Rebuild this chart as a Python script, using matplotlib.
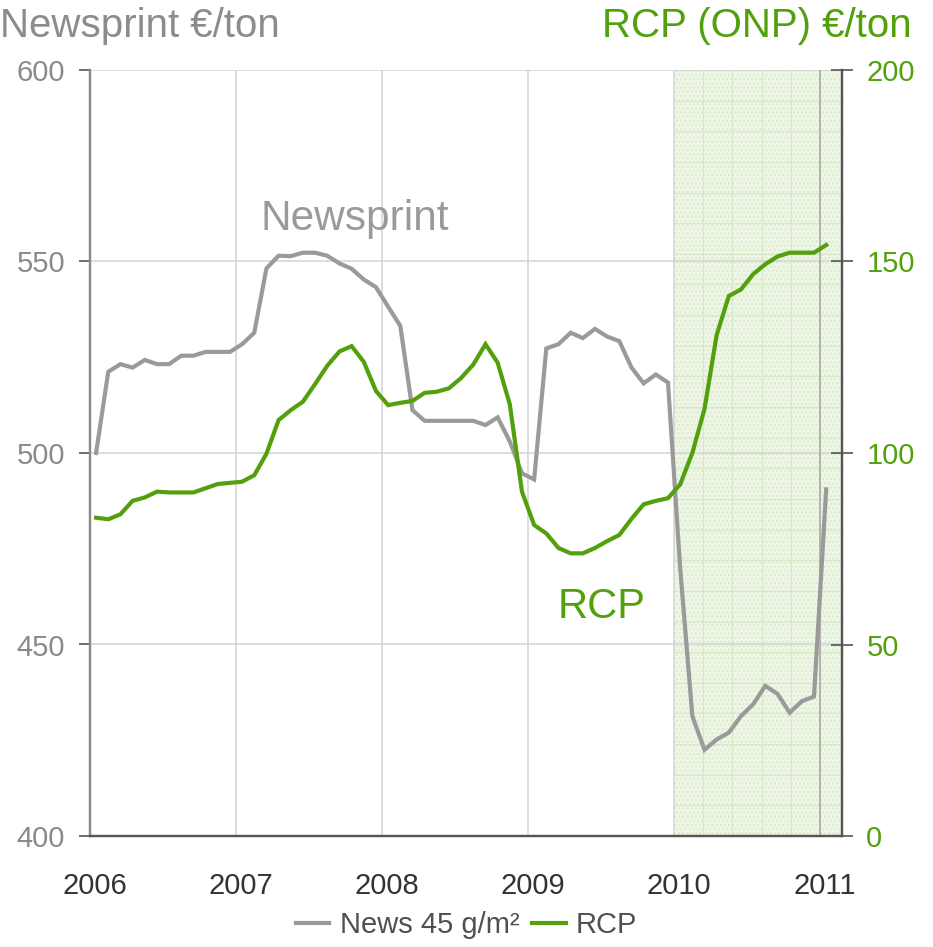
import numpy as np
import matplotlib
matplotlib.use("Agg")
import matplotlib.pyplot as plt
import matplotlib.transforms as mtransforms

plt.rcParams['font.family'] = ['Liberation Sans', 'DejaVu Sans']

# monthly data Jan 2006 .. Jan 2011
start_year = 2006
newsprint = [500, 521.2, 523.2, 522.3, 524.3, 523.2, 523.2, 525.4, 525.4, 526.4, 526.4, 526.4,
             528.4, 531.4, 548.2, 551.5, 551.4, 552.3, 552.3, 551.5, 549.5, 548.1, 545.3, 543.3,
             538.2, 533.2, 511.2, 508.4, 508.4, 508.4, 508.4, 508.4, 507.3, 509.3, 503.0, 494.7,
             493.1, 527.3, 528.4, 531.4, 530.0, 532.4, 530.4, 529.2, 522.3, 518.2, 520.5, 518.4,
             470.0, 431.3, 422.5, 425.2, 427.0, 431.3, 434.4, 439.2, 437.1, 432.2, 435.2, 436.4,
             490.5]
rcp = [83.1, 82.7, 84.0, 87.5, 88.4, 89.9, 89.7, 89.7, 89.7, 90.8, 91.9, 92.2,
       92.5, 94.2, 99.8, 108.6, 111.2, 113.4, 118.0, 122.8, 126.5, 127.9, 123.8, 116.2,
       112.5, 113.1, 113.6, 115.7, 116.0, 116.9, 119.6, 123.1, 128.4, 123.6, 112.7, 89.9,
       81.2, 79.0, 75.2, 73.8, 73.8, 75.2, 77.0, 78.6, 82.8, 86.6, 87.5, 88.2,
       91.8, 100.0, 111.5, 130.8, 141.0, 142.7, 146.7, 149.3, 151.3, 152.3, 152.3, 152.3,
       154.3]
year_ticks = [2006, 2007, 2008, 2009, 2010, 2011]
left_ticks = [400, 450, 500, 550, 600]
right_ticks = [0, 50, 100, 150, 200]
shade_start = 2010

x = start_year + (np.arange(len(newsprint)) + 0.5) / 12.0

GRAY = '#9a9a9a'
GREEN = '#52a00c'

fig = plt.figure(figsize=(9.33, 9.47), dpi=100)
ax = fig.add_axes([90/933, 1-836/947, (842-90)/933, (836-70)/947])
ax2 = ax.twinx()

xmin, xmax = 2006.005, 2011.15
ax.set_xlim(xmin, xmax)
ax.set_ylim(400, 600)
ax2.set_ylim(0, 200)

# shaded forecast region
ax.axvspan(shade_start, xmax, color='#eef6e6', zorder=0, lw=0)
ax.fill_between([shade_start, xmax], 400, 600, facecolor='none', edgecolor='#dcebcf',
                hatch='....', lw=0, zorder=0.5)
for xv in np.arange(shade_start + 0.2, xmax, 0.2):
    ax.plot([xv, xv], [400, 600], color='#d6e8c6', lw=0.8, zorder=0.6)
for yv in np.arange(408, 600, 8):
    ax.plot([shade_start, xmax], [yv, yv], color='#d6e8c6', lw=0.8, zorder=0.6)

# grid
for yv in left_ticks[1:]:
    ax.axhline(yv, color='#d3d3d3', lw=1.1, zorder=1)
for xv in year_ticks[1:5]:
    ax.axvline(xv, color='#d3d3d3', lw=1.1, zorder=1)
ax.axvline(2011, color='#a8aaa8', lw=1.2, zorder=1)

ln1, = ax.plot(x, newsprint, color=GRAY, lw=3.0, zorder=3, solid_joinstyle='miter')
ln2, = ax2.plot(x, rcp, color=GREEN, lw=3.0, zorder=3, solid_joinstyle='miter')

ax.set_xticks(year_ticks)
ax.set_xticklabels([str(y) for y in year_ticks])
ax.set_yticks(left_ticks)
ax2.set_yticks(right_ticks)

ax.tick_params(axis='x', length=0, pad=26, labelsize=21, labelcolor='#333333')
ax.tick_params(axis='y', direction='out', length=8, width=1.2, color='#555555',
               labelsize=21, labelcolor='#8a8a8a', pad=10)
ax2.tick_params(axis='y', direction='inout', length=16, width=1.2, color='#555555',
                labelsize=21, labelcolor=GREEN, pad=9.5)

offset = mtransforms.ScaledTranslation(5/100, 0, fig.dpi_scale_trans)
for lbl in ax.get_xticklabels():
    lbl.set_transform(lbl.get_transform() + offset)

for a in (ax, ax2):
    a.spines['top'].set_visible(False)
    a.spines['left'].set_color('#8a8a8a')
    a.spines['right'].set_color('#555555')
    a.spines['bottom'].set_color('#555555')
    a.spines['left'].set_linewidth(1.6)
    a.spines['right'].set_linewidth(1.6)
    a.spines['bottom'].set_linewidth(1.6)
ax2.patch.set_visible(False)

ax.text(2007.17, 558.2, 'Newsprint', color=GRAY, fontsize=30.5, va='baseline', ha='left', zorder=5)
ax.text(2009.2, 456.9, 'RCP', color=GREEN, fontsize=30, va='baseline', ha='left', zorder=5)

fig.text(0.0, 1-37/947, 'Newsprint €/ton', color='#8c8c8c', fontsize=29, va='baseline', ha='left')
fig.text(912/933, 1-37/947, 'RCP (ONP) €/ton', color=GREEN, fontsize=29, va='baseline', ha='right')

fig.legend([ln1, ln2], ['News 45 g/m²', 'RCP'], loc='center', bbox_to_anchor=(0.5, 1-925/947),
           ncol=2, frameon=False, fontsize=21, handlelength=1.15, handletextpad=0.35,
           columnspacing=0.45, labelcolor='#505050')

fig.savefig('out.png', dpi=100)
